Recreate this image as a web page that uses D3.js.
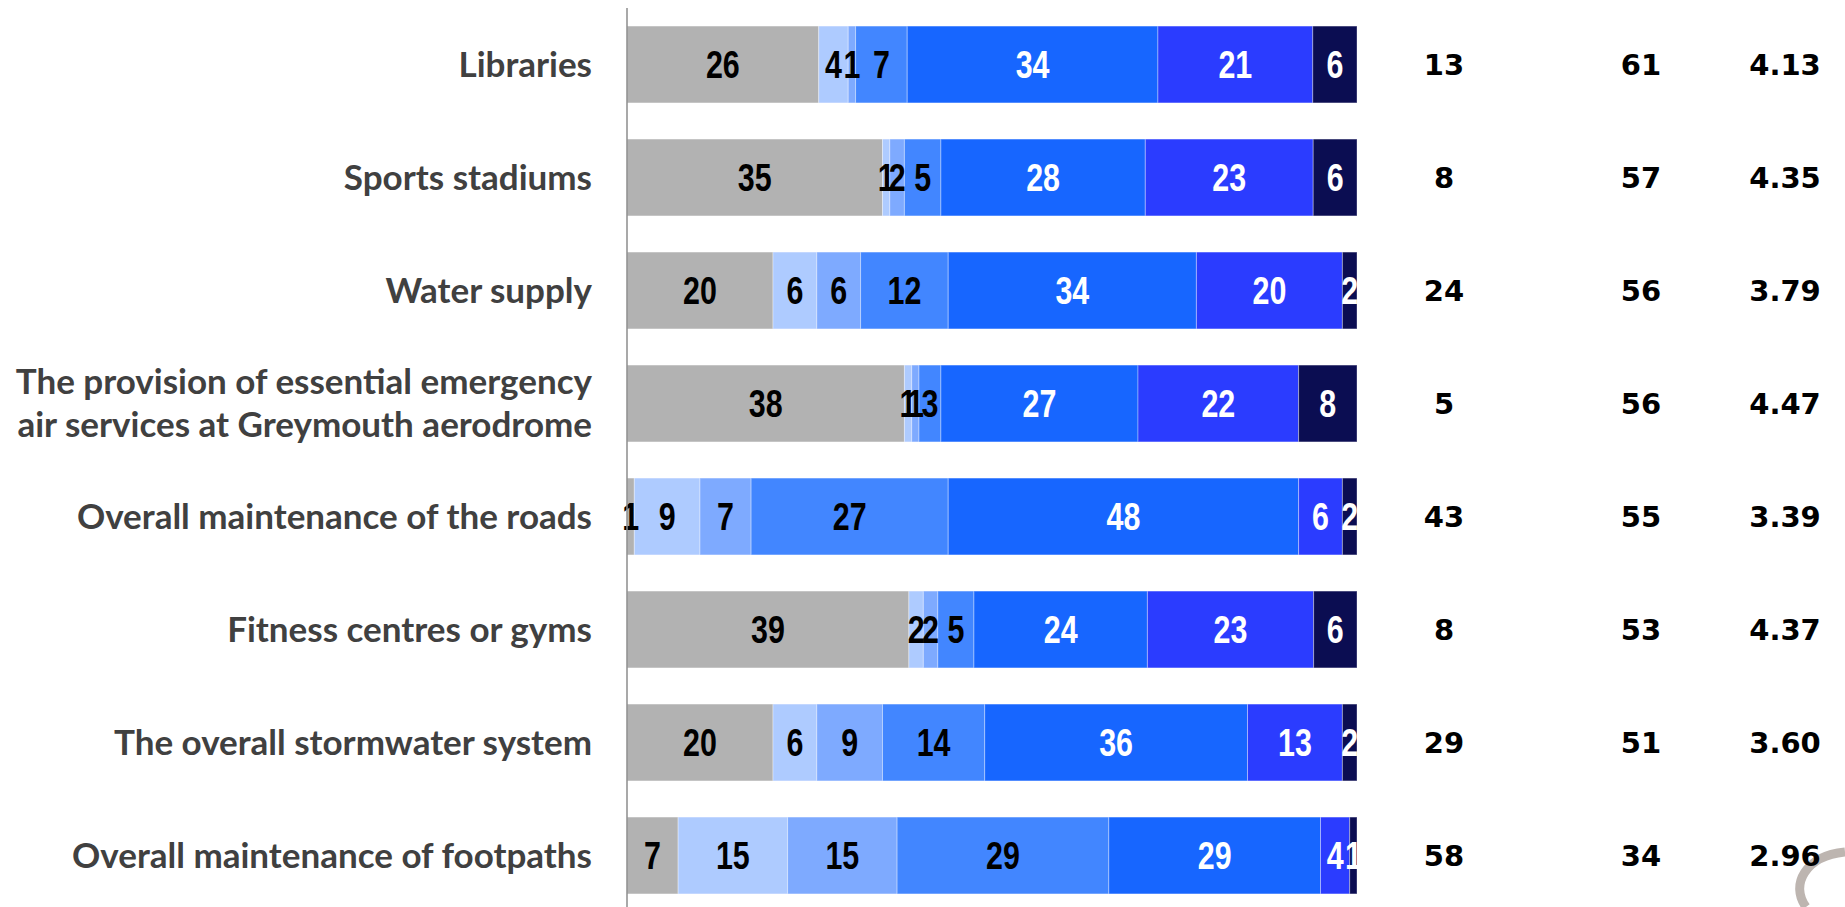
<!DOCTYPE html>
<html><head><meta charset="utf-8">
<script src="https://cdn.jsdelivr.net/npm/d3@7"></script>
<style>body{margin:0;background:#fff;overflow:hidden}</style>
</head><body><svg id="c" width="1845" height="907"></svg>
<script>
const categories = [
  "Libraries",
  "Sports stadiums",
  "Water supply",
  "The provision of essential emergency|air services at Greymouth aerodrome",
  "Overall maintenance of the roads",
  "Fitness centres or gyms",
  "The overall stormwater system",
  "Overall maintenance of footpaths"
];
const seriesNames = ["s0","s1","s2","s3","s4","s5","s6"];
const s0 = [26,35,20,38,1,39,20,7];
const s1 = [4,1,6,1,9,2,6,15];
const s2 = [1,2,6,1,7,2,9,15];
const s3 = [7,5,12,3,27,5,14,29];
const s4 = [34,28,34,27,48,24,36,29];
const s5 = [21,23,20,22,6,23,13,4];
const s6 = [6,6,2,8,2,6,2,1];
const col1 = ["13","8","24","5","43","8","29","58"];
const col2 = ["61","57","56","56","55","53","51","34"];
const col3 = ["4.13","4.35","3.79","4.47","3.39","4.37","3.60","2.96"];

const colors = ["#b2b2b2","#aecbff","#7eaaff","#4286ff","#1766ff","#2b3cff","#0b0d52"];
const textColors = ["#000","#000","#000","#000","#fff","#fff","#fff"];
const allSeries = [s0,s1,s2,s3,s4,s5,s6];

const svg = d3.select("#c");

// decorative logo swirl (bottom right)
svg.append("path").attr("d","M1845,852 C1805,856 1790,885 1806,907")
  .attr("fill","none").attr("stroke","#bdb5b0").attr("stroke-width",9);

const x = d3.scaleLinear().domain([0,1]).range([627,1357]);
const y = d3.scaleBand().domain(categories).range([8,912]).paddingInner(0.32).paddingOuter(0.16);

const rows = categories.map((c,i)=>{
  const vals = allSeries.map(s=>s[i]);
  const tot = d3.sum(vals);
  let acc = 0;
  return vals.map((v,k)=>{ const seg={cat:c,k,v,x0:acc/tot,x1:(acc+v)/tot}; acc+=v; return seg; });
});
const segs = rows.flat();

svg.append("g").selectAll("rect").data(segs).join("rect")
  .attr("x",d=>x(d.x0)).attr("width",d=>x(d.x1)-x(d.x0))
  .attr("y",d=>y(d.cat)).attr("height",y.bandwidth())
  .attr("fill",d=>colors[d.k])
  .attr("stroke","#ffffff").attr("stroke-opacity",0.35).attr("stroke-width",1);

svg.append("g").selectAll("text").data(segs.filter(d=>d.v>0)).join("text")
  .attr("transform",d=>`translate(${x((d.x0+d.x1)/2)},${y(d.cat)+y.bandwidth()/2}) scale(0.8,1)`)
  .attr("text-anchor","middle").attr("dominant-baseline","central")
  .attr("font-family","'Liberation Sans',Arial,sans-serif")
  .attr("font-weight","bold").attr("font-size",38)
  .attr("fill",d=>textColors[d.k]).text(d=>d.v);

// axis line
svg.append("line").attr("x1",627).attr("x2",627).attr("y1",8).attr("y2",907)
  .attr("stroke","#8c8c8c").attr("stroke-width",1.5);

// category labels
const lab = svg.append("g").selectAll("text").data(categories).join("text")
  .attr("x",592).attr("y",d=>y(d)+y.bandwidth()/2)
  .attr("text-anchor","end")
  .attr("font-family","Lato, sans-serif").attr("font-weight","bold").attr("font-size",35)
  .attr("fill","#404040");
lab.each(function(d){
  const parts = d.split("|");
  const t = d3.select(this);
  parts.forEach((p,j)=>{
    t.append("tspan").attr("x",592)
     .attr("dy", j===0 ? ((-(parts.length-1)/2)*1.22+0.35)+"em" : "1.22em")
     .text(p);
  });
});

// right columns
const cols = ["c1","c2","c3"];
const colData = [col1,col2,col3];
const cx = d3.scaleOrdinal().domain(cols).range([1444,1641,1785]);
cols.forEach((c,ci)=>{
  svg.append("g").selectAll("text").data(categories).join("text")
    .attr("x",cx(c)).attr("y",d=>y(d)+y.bandwidth()/2)
    .attr("text-anchor","middle").attr("dominant-baseline","central")
    .attr("font-family","'DejaVu Sans',sans-serif").attr("font-weight","bold").attr("font-size",29)
    .attr("fill","#000").text((d,i)=>colData[ci][i]);
});
</script></body></html>
